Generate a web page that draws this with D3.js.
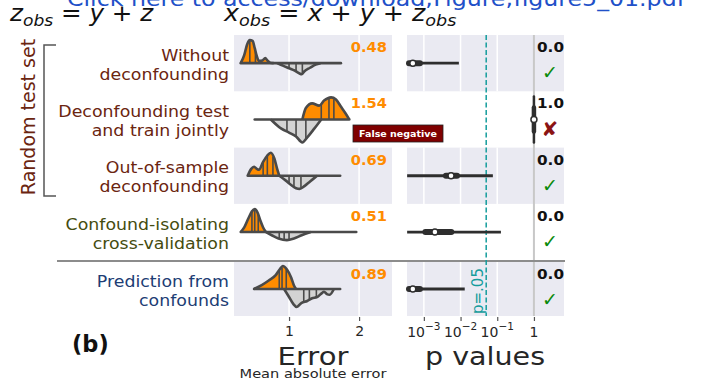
<!DOCTYPE html>
<html>
<head>
<meta charset="utf-8">
<script src="https://cdn.jsdelivr.net/npm/d3@7"></script>
<style>
  body { margin: 0; background: #fff; }
  svg { display: block; }
  text { font-family: "DejaVu Sans", sans-serif; }
</style>
</head>
<body>
<div id="chart"></div>
<script>

// Set dimensions for the figure
const width = 712;
const height = 382;

// ---- data ----
const methods = [
  ["Without", "deconfounding"],
  ["Deconfounding test", "and train jointly"],
  ["Out-of-sample", "deconfounding"],
  ["Confound-isolating", "cross-validation"],
  ["Prediction from", "confounds"]
];
const errMedians = ["0.48", "1.54", "0.69", "0.51", "0.89"];
// full extent of the errors (the horizontal stem of each violin)
const errRange = [[0.31, 1.74], [0.51, 1.86], [0.41, 1.73], [0.31, 1.96], [0.50, 1.73]];
// upper (orange) half: [error, relative density]
const errTop = [
  [[0.31,0],[0.36,0.35],[0.40,0.8],[0.44,1],[0.48,0.97],[0.51,0.65],[0.54,0.3],[0.57,0.1],[0.62,0.12],[0.66,0.22],[0.69,0.12],[0.73,0.02],[0.78,0]],
  [[1.19,0],[1.24,0.5],[1.33,0.7],[1.43,0.6],[1.50,0.82],[1.60,0.96],[1.67,0.87],[1.74,0.56],[1.81,0.25],[1.86,0]],
  [[0.41,0],[0.46,0.3],[0.50,0.39],[0.54,0.3],[0.57,0.26],[0.63,0.6],[0.69,0.88],[0.74,1],[0.79,0.75],[0.83,0.3],[0.86,0]],
  [[0.31,0],[0.36,0.2],[0.42,0.6],[0.47,0.9],[0.51,1],[0.55,0.85],[0.59,0.5],[0.63,0.2],[0.67,0]],
  [[0.50,0],[0.61,0.17],[0.71,0.37],[0.81,0.6],[0.87,0.87],[0.91,1],[0.97,0.85],[1.03,0.5],[1.07,0.15],[1.10,0]]
];
// lower (grey) half
const errBottom = [
  [[0.83,0],[0.92,0.12],[1.0,0.22],[1.08,0.32],[1.15,0.45],[1.18,0.48],[1.22,0.35],[1.3,0.2],[1.38,0.06],[1.45,0]],
  [[0.74,0],[0.89,0.4],[1.0,0.57],[1.1,0.74],[1.19,1],[1.26,0.78],[1.36,0.4],[1.46,0]],
  [[0.86,0],[0.95,0.2],[1.03,0.4],[1.1,0.54],[1.15,0.57],[1.22,0.45],[1.3,0.25],[1.4,0]],
  [[0.67,0],[0.76,0.15],[0.85,0.28],[0.97,0.35],[1.07,0.28],[1.18,0.14],[1.31,0]],
  [[0.93,0],[1.0,0.35],[1.06,0.65],[1.11,0.78],[1.18,0.6],[1.26,0.52],[1.33,0.4],[1.40,0.35],[1.46,0.2],[1.50,0.12],[1.54,0.22],[1.58,0.25],[1.64,0]]
];
const topQuartiles = [[0.44,0.52,0.57],[1.46,1.57,1.64],[0.63,0.69,0.77],[0.47,0.51,0.56],[0.86,0.90,0.96]];
const bottomQuartiles = [[1.0,1.1,1.19],[0.97,1.1,1.24],[1.0,1.07,1.17],[0.86,0.93,1.0],[1.21,1.29,1.39]];
// p values of the permutation test: [min, q1, median, q3, max]
const pStats = [
  [3.5e-4, 3.5e-4, 5e-4, 7.8e-4, 9e-3],
  [1, 1, 1, 1, 1],
  [3.5e-4, 4e-3, 5.5e-3, 8e-3, 7.6e-2],
  [3.5e-4, 1.1e-3, 2e-3, 5.6e-3, 0.126],
  [3.5e-4, 3.5e-4, 5e-4, 7.8e-4, 1.3e-2]
];
const pLabels = ["0.0", "1.0", "0.0", "0.0", "0.0"];
const pSignificant = [true, false, true, true, true];
const errTicks = [1, 2];
const pTicks = [1e-3, 1e-2, 1e-1, 1];
const pTickLabels = [["10", "\u22123"], ["10", "\u22122"], ["10", "\u22121"], ["1", ""]];
const alpha = 0.05;

// ---- layout ----
const labelColors = ["#6b2510", "#6b2510", "#6b2510", "#454c0f", "#1d3d74"];
const rowTop = i => i < 4 ? 35 + i * 56.3 : 262;
const rowH = i => i < 4 ? 56.3 : 54;
const rowMid = i => rowTop(i) + rowH(i) / 2;
const shaded = [true, false, true, false, true];
const stretchK = 1.12;

const svg = d3.select("#chart").append("svg")
  .attr("width", width)
  .attr("height", height);

// stretch text horizontally like the original figure
function stretch(sel, k) {
  sel.each(function() {
    const w = this.getComputedTextLength();
    d3.select(this).attr("textLength", w * k).attr("lengthAdjust", "spacingAndGlyphs");
  });
}

const xErr = d3.scaleLinear().domain([0.214, 2.47]).range([234, 392]);
const xP = d3.scaleLog().domain([3.47e-4, 6.6]).range([407, 564]);
const dens = d3.scaleLinear().domain([0, 1]).range([0, 23]);

// background bands + gridlines
[[xErr, errTicks], [xP, pTicks]].forEach(([sc, ticks]) => {
  const [x0, x1] = sc.range();
  methods.forEach((m, i) => {
    if (!shaded[i]) return;
    svg.append("rect").attr("x", x0).attr("y", rowTop(i))
      .attr("width", x1 - x0).attr("height", rowH(i)).attr("fill", "#eaeaf2");
    ticks.forEach(t => {
      svg.append("line").attr("x1", sc(t)).attr("x2", sc(t))
        .attr("y1", rowTop(i)).attr("y2", rowTop(i) + rowH(i))
        .attr("stroke", "#fff").attr("stroke-width", 1.5);
    });
  });
});

// p = 1 reference line
svg.append("line").attr("x1", xP(1)).attr("x2", xP(1)).attr("y1", 35).attr("y2", 316)
  .attr("stroke", "#c8c8c8").attr("stroke-width", 2);

// separator between random test set and confound prediction
svg.append("line").attr("x1", 57).attr("x2", 565).attr("y1", 261).attr("y2", 261)
  .attr("stroke", "#8c8c8c").attr("stroke-width", 2);

// alpha line
svg.append("line").attr("x1", xP(alpha)).attr("x2", xP(alpha)).attr("y1", 35).attr("y2", 316)
  .attr("stroke", "#159c9c").attr("stroke-width", 1.5).attr("stroke-dasharray", "5,2.5");
svg.append("text")
  .attr("transform", `translate(${xP(alpha) - 3},314) rotate(-90)`)
  .attr("fill", "#159c9c").attr("font-size", 15)
  .text("p=.05");

// ---- split violins of the error ----
function densAt(profile, v) {
  for (let k = 0; k < profile.length - 1; k++) {
    const a = profile[k], b = profile[k + 1];
    if (v >= a[0] && v <= b[0]) return a[1] + (b[1] - a[1]) * (v - a[0]) / (b[0] - a[0]);
  }
  return 0;
}
const areaTop = d3.area().x(d => xErr(d[0])).y0(0).y1(d => -dens(d[1])).curve(d3.curveMonotoneX);
const areaBot = d3.area().x(d => xErr(d[0])).y0(0).y1(d => dens(d[1])).curve(d3.curveMonotoneX);
const lineTop = d3.line().x(d => xErr(d[0])).y(d => -dens(d[1])).curve(d3.curveMonotoneX);
const lineBot = d3.line().x(d => xErr(d[0])).y(d => dens(d[1])).curve(d3.curveMonotoneX);

methods.forEach((m, i) => {
  const g = svg.append("g").attr("transform", `translate(0,${rowMid(i)})`);
  g.append("path").attr("d", areaTop(errTop[i])).attr("fill", "#ff8c00");
  g.append("path").attr("d", areaBot(errBottom[i])).attr("fill", "#d3d3d3");
  topQuartiles[i].forEach(q => {
    g.append("line").attr("x1", xErr(q)).attr("x2", xErr(q))
      .attr("y1", 0).attr("y2", -dens(densAt(errTop[i], q)) * 0.97)
      .attr("stroke", "#4a4a4a").attr("stroke-width", 1.6);
  });
  bottomQuartiles[i].forEach(q => {
    g.append("line").attr("x1", xErr(q)).attr("x2", xErr(q))
      .attr("y1", 0).attr("y2", dens(densAt(errBottom[i], q)) * 0.97)
      .attr("stroke", "#4a4a4a").attr("stroke-width", 1.6);
  });
  [lineTop(errTop[i]), lineBot(errBottom[i])].forEach(d => {
    g.append("path").attr("d", d).attr("fill", "none")
      .attr("stroke", "#4a4a4a").attr("stroke-width", 2.6).attr("stroke-linejoin", "round");
  });
  g.append("line").attr("x1", xErr(errRange[i][0])).attr("x2", xErr(errRange[i][1]))
    .attr("y1", 0).attr("y2", 0)
    .attr("stroke", "#4a4a4a").attr("stroke-width", 2.6).attr("stroke-linecap", "round");

  g.append("text").attr("x", 387).attr("y", rowTop(i) + 17 - rowMid(i))
    .attr("text-anchor", "end").attr("font-size", 14).attr("font-weight", "bold")
    .attr("fill", "#ff8c00").text(errMedians[i]).call(stretch, 1.05);
});

// ---- p value violins (collapsed to boxes) ----
methods.forEach((m, i) => {
  const [mn, q1, md, q3, mx] = pStats[i];
  const g = svg.append("g").attr("transform", `translate(0,${rowMid(i)})`);
  if (mn === mx) {
    const x = xP(md);
    g.append("line").attr("x1", x).attr("x2", x).attr("y1", -23).attr("y2", 23)
      .attr("stroke", "#2e2e2e").attr("stroke-width", 2.5).attr("stroke-linecap", "round");
    g.append("line").attr("x1", x).attr("x2", x).attr("y1", -12).attr("y2", 12)
      .attr("stroke", "#2e2e2e").attr("stroke-width", 4.5).attr("stroke-linecap", "round");
    g.append("circle").attr("cx", x).attr("cy", 0).attr("r", 3)
      .attr("fill", "#fff").attr("stroke", "#2e2e2e").attr("stroke-width", 1.5);
  } else {
    const lo = Math.max(xP(mn), 407);
    g.append("line").attr("x1", lo).attr("x2", xP(mx)).attr("y1", 0).attr("y2", 0)
      .attr("stroke", "#2e2e2e").attr("stroke-width", 2.8);
    g.append("line").attr("x1", Math.max(xP(q1), 409)).attr("x2", xP(q3)).attr("y1", 0).attr("y2", 0)
      .attr("stroke", "#2e2e2e").attr("stroke-width", 6).attr("stroke-linecap", "round");
    g.append("circle").attr("cx", xP(md)).attr("cy", 0).attr("r", 3)
      .attr("fill", "#fff").attr("stroke", "#2e2e2e").attr("stroke-width", 1.5);
  }
  svg.append("text").attr("x", 564).attr("y", rowTop(i) + 17)
    .attr("text-anchor", "end").attr("font-size", 14.5).attr("font-weight", "bold")
    .attr("fill", "#111").text(pLabels[i]).call(stretch, 1.05);
  svg.append("text").attr("x", 550).attr("y", rowTop(i) + (pSignificant[i] ? 44 : 45))
    .attr("text-anchor", "middle").attr("font-size", pSignificant[i] ? 19 : 20)
    .attr("fill", pSignificant[i] ? "#0a8a0a" : "#8b1414")
    .text(pSignificant[i] ? "\u2713" : "\u2718");
});

// false negative tag
const fn = svg.append("g").attr("transform", "translate(353,125)");
fn.append("rect").attr("width", 90).attr("height", 17)
  .attr("fill", "#7f0000").attr("stroke", "#222").attr("stroke-width", 0.8);
fn.append("text").attr("x", 45).attr("y", 12.3).attr("text-anchor", "middle")
  .attr("font-size", 9.5).attr("font-weight", "bold").attr("fill", "#fff")
  .text("False negative");

// ---- row labels ----
methods.forEach((m, i) => {
  m.forEach((s, k) => {
    svg.append("text").attr("x", 229).attr("y", rowMid(i) - 2.5 + k * 19)
      .attr("text-anchor", "end").attr("font-size", 15.5)
      .attr("fill", labelColors[i]).text(s).call(stretch, stretchK);
  });
});

// bracket for the random test set group
svg.append("path").attr("d", "M56,45H44V196H56").attr("fill", "none")
  .attr("stroke", "#555").attr("stroke-width", 1.5);
svg.append("text").attr("transform", "translate(35,117) rotate(-90)")
  .attr("text-anchor", "middle").attr("font-size", 19).attr("fill", "#6b2510")
  .text("Random test set");

// ---- axes ----
const axErr = svg.append("g").attr("transform", "translate(0,317)")
  .call(d3.axisBottom(xErr).tickValues(errTicks).tickSize(4).tickFormat(d3.format("d")));
const axP = svg.append("g").attr("transform", "translate(0,317)")
  .call(d3.axisBottom(xP).tickValues(pTicks).tickSize(4).tickFormat(""));
[axErr, axP].forEach(ax => {
  ax.select(".domain").remove();
  ax.selectAll(".tick line").attr("stroke", "#555").attr("stroke-width", 1.2);
});
axErr.selectAll(".tick text").attr("font-family", "DejaVu Sans").attr("font-size", 14)
  .attr("fill", "#262626").attr("y", 9).attr("dy", "0.71em");

pTicks.forEach((t, i) => {
  const tx = svg.append("text").attr("x", xP(t)).attr("y", 337)
    .attr("text-anchor", "middle").attr("font-size", 14).attr("fill", "#262626");
  tx.append("tspan").text(pTickLabels[i][0]);
  if (pTickLabels[i][1]) {
    tx.append("tspan").attr("font-size", 10.5).attr("dy", -7).text(pTickLabels[i][1]);
  }
});

svg.append("text").attr("x", 313).attr("y", 365).attr("text-anchor", "middle")
  .attr("font-size", 25.5).attr("fill", "#262626").text("Error").call(stretch, 1.14);
svg.append("text").attr("x", 313).attr("y", 378).attr("text-anchor", "middle")
  .attr("font-size", 13).attr("fill", "#262626").text("Mean absolute error").call(stretch, stretchK);
svg.append("text").attr("x", 485).attr("y", 365).attr("text-anchor", "middle")
  .attr("font-size", 25.5).attr("fill", "#262626").text("p values").call(stretch, stretchK);

svg.append("text").attr("x", 72).attr("y", 352).attr("font-size", 22.5)
  .attr("font-weight", "bold").attr("fill", "#111").text("(b)");

// ---- formulas at the top ----
function formula(x, parts) {
  const t = svg.append("text").attr("x", x).attr("y", 21)
    .attr("font-family", "Liberation Serif, serif").attr("font-size", 23).attr("fill", "#111");
  parts.forEach(p => {
    const s = t.append("tspan").text(p.s);
    if (p.i) s.attr("font-style", "italic");
    if (p.sub) s.attr("font-size", 16).attr("dy", 5);
    if (p.up) s.attr("dy", -5);
  });
  return t;
}
formula(10, [{s: "z", i: 1}, {s: "obs", i: 1, sub: 1}, {s: " = ", up: 1}, {s: "y", i: 1}, {s: " + "}, {s: "z", i: 1}])
  .call(stretch, 1.07);
formula(224, [{s: "x", i: 1}, {s: "obs", i: 1, sub: 1}, {s: " = ", up: 1}, {s: "x", i: 1}, {s: " + "},
  {s: "y", i: 1}, {s: " + "}, {s: "z", i: 1}, {s: "obs", i: 1, sub: 1}])
  .call(stretch, 1.1);

// link banner left over from the PDF export, clipped at the top
svg.append("text").attr("x", 67).attr("y", 6)
  .attr("font-family", "Liberation Sans, Arial, sans-serif").attr("font-size", 21)
  .attr("fill", "#2150c8").text("Click here to access/download;Figure;figure5_01.pdf")
  .each(function() { d3.select(this).attr("textLength", 618).attr("lengthAdjust", "spacingAndGlyphs"); });

</script>
</body>
</html>
